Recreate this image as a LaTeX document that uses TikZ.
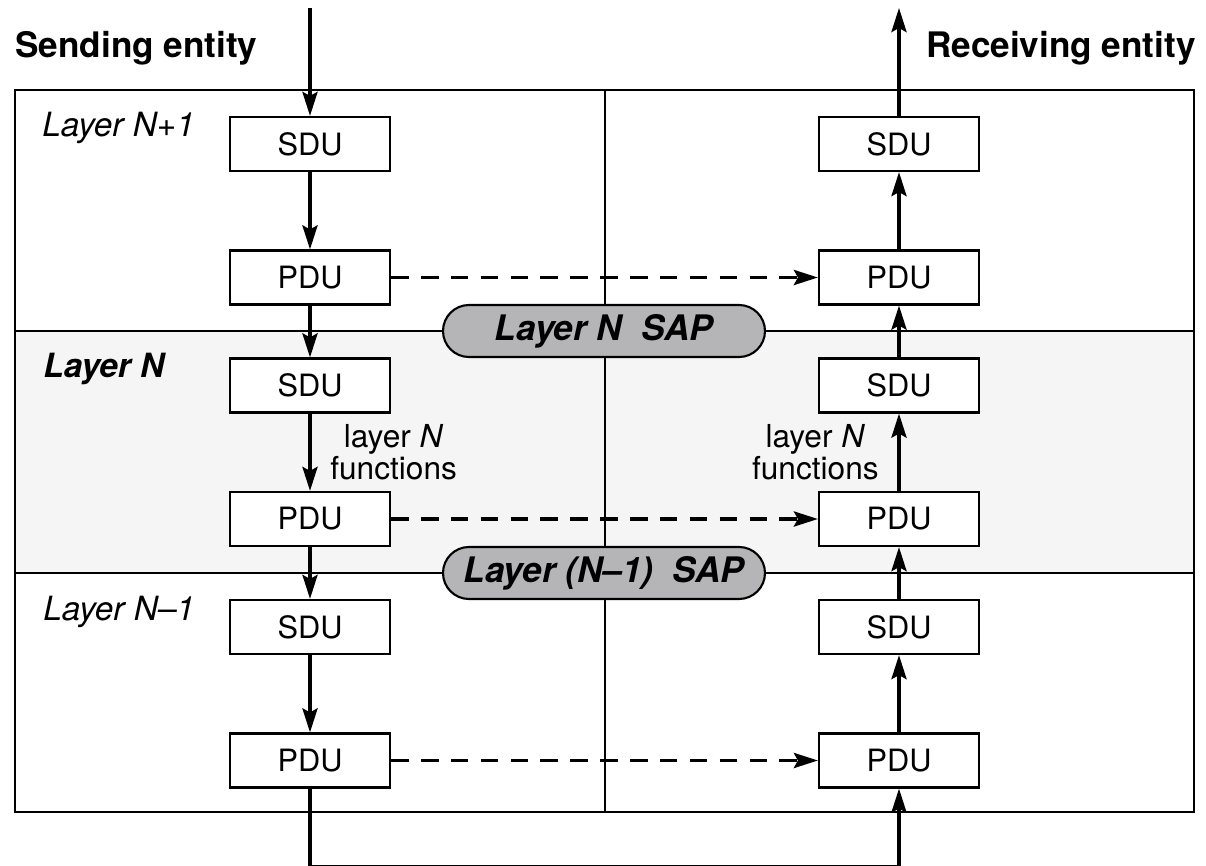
\documentclass[tikz,border=0pt]{standalone}
\usepackage{fontspec}
\setmainfont{TeX Gyre Heros}
\usepackage{tikz}
\usetikzlibrary{shapes.geometric, arrows.meta}
\definecolor{bandgray}{RGB}{245,245,245}
\definecolor{sapgray}{RGB}{181,180,183}
\tikzstyle{unit} = [
    rectangle,
    minimum width=3.2cm, minimum height=1.08cm,
    text centered, line width=1.2pt,
    draw=black, fill=white,
    font=\fontsize{17.5}{20}\selectfont]
\tikzstyle{sap} = [
    rectangle, rounded corners=0.52cm,
    minimum width=6.44cm, minimum height=1.04cm,
    text centered, line width=1.2pt,
    draw=black, fill=sapgray,
    font=\fontsize{20}{24}\selectfont\bfseries\itshape]
\tikzstyle{fnlabel} = [
    align=center, inner xsep=0.37cm,
    font=\fontsize{18}{14.5}\selectfont]
\tikzstyle{layerlabel} = [anchor=base west, inner sep=0pt, font=\fontsize{19}{22}\selectfont\itshape]
\tikzstyle{entity} = [inner sep=0pt, font=\fontsize{20}{24}\selectfont\bfseries]
\tikzstyle{frame} = [line width=1.2pt]
\tikzstyle{arrow} = [line width=2.1pt,->,>={Stealth[length=0.48cm,width=0.3cm,inset=0.08cm]}]
\tikzstyle{dasharrow} = [arrow, dash pattern=on 10pt off 7pt]

\begin{document}
\begin{tikzpicture}[node distance=2.67cm]
        \useasboundingbox (0,0) rectangle (24.12,-17.32);

        % layers
        \fill[bandgray] (0.3,-6.62) rectangle (23.88,-11.46);
        \draw[frame] (0.3,-1.8) rectangle (23.88,-16.24);
        \draw[frame] (0.3,-6.62) -- (23.88,-6.62);
        \draw[frame] (0.3,-11.46) -- (23.88,-11.46);
        \draw[frame] (12.1,-1.8) -- (12.1,-16.24);

        \node (send) [entity, anchor=base west] at (0.3,-1.16) {Sending entity};
        \node (recv) [entity, anchor=base east] at (23.92,-1.16) {Receiving entity};

        \node (lab_up) [layerlabel] at (0.84,-2.74) {Layer N+1};
        \node (lab_n) [layerlabel, font=\fontsize{19}{22}\selectfont\bfseries\itshape] at (0.86,-7.54) {Layer N};
        \node (lab_down) [layerlabel] at (0.86,-12.4) {Layer N--1};

        % sending side
        \node (sdu_up_l) [unit] at (6.2,-2.88) {SDU};
        \node (pdu_up_l) [unit, below of=sdu_up_l] {PDU};
        \node (sdu_n_l) [unit, below of=pdu_up_l, yshift=0.51cm] {SDU};
        \node (pdu_n_l) [unit, below of=sdu_n_l] {PDU};
        \node (sdu_down_l) [unit, below of=pdu_n_l, yshift=0.51cm] {SDU};
        \node (pdu_down_l) [unit, below of=sdu_down_l] {PDU};

        % receiving side
        \node (sdu_up_r) [unit, right of=sdu_up_l, xshift=9.11cm] {SDU};
        \node (pdu_up_r) [unit, right of=pdu_up_l, xshift=9.11cm] {PDU};
        \node (sdu_n_r) [unit, right of=sdu_n_l, xshift=9.11cm] {SDU};
        \node (pdu_n_r) [unit, right of=pdu_n_l, xshift=9.11cm] {PDU};
        \node (sdu_down_r) [unit, right of=sdu_down_l, xshift=9.11cm] {SDU};
        \node (pdu_down_r) [unit, right of=pdu_down_l, xshift=9.11cm] {PDU};

        \node (sap_n) [sap] at (12.08,-6.62) {Layer N\ \ SAP};
        \node (sap_down) [sap] at (12.08,-11.46) {Layer (N--1)\ \ SAP};

        \coordinate (in) at (6.2,-0.16);
        \coordinate (out) at (17.98,-0.16);
        \coordinate (bottom) at (12.1,-17.335);

        \draw [arrow] (in) -- (sdu_up_l);
        \draw [arrow] (sdu_up_l) -- (pdu_up_l);
        \draw [arrow] (pdu_up_l) -- (sdu_n_l);
        \draw [arrow] (sdu_n_l) -- node[anchor=west, fnlabel] {layer \textit{N}\\functions} (pdu_n_l);
        \draw [arrow] (pdu_n_l) -- (sdu_down_l);
        \draw [arrow] (sdu_down_l) -- (pdu_down_l);

        \draw [arrow] (pdu_down_l.south) |- (bottom) -| (pdu_down_r.south);

        \draw [arrow] (pdu_down_r) -- (sdu_down_r);
        \draw [arrow] (sdu_down_r) -- (pdu_n_r);
        \draw [arrow] (pdu_n_r) -- node[anchor=east, fnlabel] {layer \textit{N}\\functions} (sdu_n_r);
        \draw [arrow] (sdu_n_r) -- (pdu_up_r);
        \draw [arrow] (pdu_up_r) -- (sdu_up_r);
        \draw [arrow] (sdu_up_r) -- (out);

        \draw [dasharrow] (pdu_up_l) -- (pdu_up_r);
        \draw [dasharrow] (pdu_n_l) -- (pdu_n_r);
        \draw [dasharrow] (pdu_down_l) -- (pdu_down_r);
    \end{tikzpicture}
\end{document}
